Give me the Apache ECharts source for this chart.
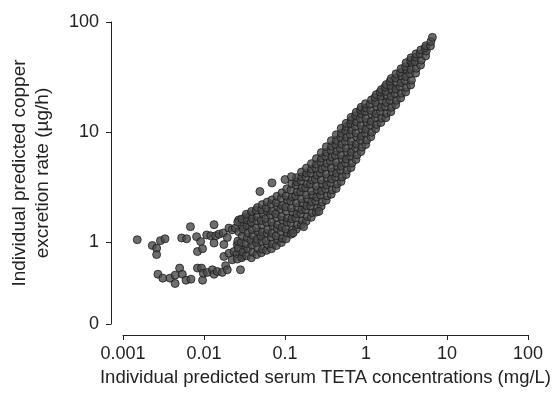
<!DOCTYPE html>
<html>
<head>
<meta charset="utf-8">
<script src="https://cdn.jsdelivr.net/npm/echarts@6/dist/echarts.min.js"></script>
<style>
  html, body { margin: 0; padding: 0; background: #fff; }
  #chart { width: 553px; height: 393px; }
</style>
</head>
<body>
<div id="chart"></div>
<script>
// [serum TETA (mg/L), copper excretion rate (ug/h)]
// sparse points at low concentrations
const lowTail = [
  [0.0015, 1.05], [0.0023, 0.93], [0.0026, 0.88], [0.0026, 0.77], [0.0029, 1.03], [0.0033, 1.07],
  [0.0053, 1.09], [0.0061, 1.07], [0.0068, 1.38], [0.0081, 1.12], [0.0091, 1.01], [0.0083, 0.82],
  [0.0096, 0.87], [0.0108, 1.16], [0.0121, 1.14], [0.0133, 1.44], [0.0139, 1.14], [0.0133, 0.98],
  [0.0153, 1.18], [0.0173, 1.21], [0.0194, 1.10], [0.0176, 0.95],
  [0.0027, 0.51], [0.0031, 0.47], [0.0038, 0.47], [0.0044, 0.50], [0.0044, 0.42], [0.0050, 0.58],
  [0.0054, 0.51], [0.0060, 0.45], [0.0069, 0.46], [0.0083, 0.58], [0.0093, 0.58], [0.0096, 0.45],
  [0.0098, 0.52], [0.0110, 0.53], [0.0127, 0.56], [0.0133, 0.51], [0.0146, 0.54], [0.0168, 0.53],
  [0.0185, 0.61], [0.0194, 0.56], [0.0176, 0.74], [0.0203, 0.79], [0.0223, 0.69], [0.0234, 0.82],
  [0.0257, 0.78], [0.0282, 0.56], [0.0257, 0.95], [0.0296, 0.74], [0.0310, 0.85],
  [0.0203, 1.34], [0.0223, 1.29], [0.0244, 1.34], [0.0269, 1.59], [0.0296, 1.38], [0.0325, 1.67],
  [0.0357, 1.44], [0.0374, 1.77]
];

// points sitting above or below the main band
const strays = [
  [0.049, 2.88], [0.069, 3.45], [0.100, 3.70], [0.120, 3.93],
  [0.126, 1.21], [0.170, 1.38], [0.262, 1.90]
];

// the dense band
const band = [
  [0.0258, 0.70], [0.0266, 0.88], [0.0262, 1.02], [0.0270, 1.24], [0.0261, 1.52],
  [0.0292, 0.72], [0.0301, 0.81], [0.0288, 0.99], [0.0297, 1.13], [0.0305, 1.31], [0.0293, 1.62],
  [0.0336, 0.75], [0.0347, 0.87], [0.0331, 0.97], [0.0342, 1.10], [0.0350, 1.21], [0.0338, 1.41], [0.0344, 1.58], [0.0333, 1.79],
  [0.0384, 0.72], [0.0399, 0.81], [0.0389, 0.94], [0.0379, 1.04], [0.0402, 1.15], [0.0391, 1.30], [0.0383, 1.51], [0.0396, 1.64], [0.0387, 1.90],
  [0.0448, 0.77], [0.0461, 0.88], [0.0440, 0.99], [0.0455, 1.06], [0.0465, 1.24], [0.0444, 1.35], [0.0452, 1.56], [0.0460, 1.70], [0.0442, 1.95], [0.0457, 2.06],
  [0.0511, 0.80], [0.0530, 0.86], [0.0518, 1.02], [0.0505, 1.13], [0.0527, 1.23], [0.0520, 1.44], [0.0508, 1.57], [0.0533, 1.81], [0.0514, 1.97], [0.0524, 2.19],
  [0.0590, 0.84], [0.0610, 0.95], [0.0583, 1.03], [0.0600, 1.20], [0.0614, 1.30], [0.0593, 1.51], [0.0579, 1.64], [0.0608, 1.89], [0.0588, 2.05], [0.0603, 2.31],
  [0.0680, 0.87], [0.0702, 0.96], [0.0671, 1.11], [0.0695, 1.20], [0.0708, 1.40], [0.0684, 1.52], [0.0668, 1.76], [0.0700, 1.91], [0.0677, 2.21], [0.0693, 2.42],
  [0.0783, 0.93], [0.0809, 1.05], [0.0775, 1.14], [0.0800, 1.33], [0.0813, 1.44], [0.0789, 1.67], [0.0770, 1.81], [0.0806, 2.10], [0.0780, 2.29], [0.0797, 2.61],
  [0.0902, 0.99], [0.0931, 1.08], [0.0892, 1.25], [0.0921, 1.36], [0.0936, 1.58], [0.0908, 1.71], [0.0888, 1.99], [0.0929, 2.15], [0.0899, 2.50], [0.0918, 2.80],
  [0.1035, 1.07], [0.107, 1.21], [0.1025, 1.31], [0.106, 1.52], [0.108, 1.65], [0.104, 1.91], [0.102, 2.08], [0.1075, 2.41], [0.103, 2.62], [0.1055, 3.05],
  [0.1195, 1.18], [0.1235, 1.29], [0.118, 1.50], [0.122, 1.63], [0.1245, 1.88], [0.120, 2.04], [0.117, 2.36], [0.123, 2.57], [0.1185, 2.98], [0.1215, 3.38],
  [0.138, 1.31], [0.1425, 1.44], [0.136, 1.66], [0.1405, 1.80], [0.1435, 2.08], [0.1385, 2.27], [0.135, 2.62], [0.142, 2.86], [0.137, 3.30], [0.1405, 3.52], [0.139, 3.85],
  [0.159, 1.43], [0.1645, 1.57], [0.157, 1.81], [0.162, 1.97], [0.1655, 2.27], [0.1595, 2.48], [0.156, 2.86], [0.1635, 3.11], [0.158, 3.60], [0.1615, 3.92], [0.160, 4.33],
  [0.183, 1.55], [0.1885, 1.71], [0.181, 1.97], [0.186, 2.14], [0.1895, 2.48], [0.1835, 2.69], [0.179, 3.11], [0.188, 3.38], [0.1815, 3.90], [0.1855, 4.24], [0.184, 4.70],
  [0.211, 1.68], [0.2175, 1.85], [0.208, 2.13], [0.2145, 2.32], [0.2185, 2.68], [0.2115, 2.92], [0.206, 3.37], [0.2165, 3.66], [0.209, 4.23], [0.2135, 4.60], [0.212, 5.16],
  [0.243, 1.87], [0.250, 2.04], [0.2395, 2.36], [0.2465, 2.56], [0.2505, 2.96], [0.2435, 3.22], [0.237, 3.73], [0.2485, 4.05], [0.2405, 4.68], [0.2455, 5.10], [0.2445, 5.74],
  [0.279, 2.12], [0.2875, 2.31], [0.2755, 2.68], [0.2835, 2.92], [0.289, 3.37], [0.2805, 3.66], [0.2725, 4.24], [0.286, 4.60], [0.2765, 5.32], [0.2825, 5.78], [0.281, 6.50],
  [0.322, 2.40], [0.3315, 2.63], [0.3175, 3.04], [0.3265, 3.30], [0.333, 3.82], [0.3225, 4.15], [0.3145, 4.80], [0.3295, 5.21], [0.319, 6.02], [0.3255, 6.54], [0.3235, 7.35],
  [0.372, 2.72], [0.3825, 2.98], [0.367, 3.45], [0.377, 3.75], [0.3845, 4.33], [0.3725, 4.71], [0.363, 5.45], [0.380, 5.92], [0.368, 6.85], [0.376, 7.44], [0.3735, 8.35],
  [0.428, 3.07], [0.4395, 3.37], [0.422, 3.90], [0.4335, 4.23], [0.442, 4.89], [0.4285, 5.32], [0.4175, 6.15], [0.437, 6.69], [0.4235, 7.73], [0.432, 8.40], [0.4295, 9.45],
  [0.4925, 3.55], [0.5065, 3.90], [0.486, 4.51], [0.499, 4.90], [0.509, 5.66], [0.4935, 6.16], [0.481, 7.12], [0.503, 7.74], [0.488, 8.95], [0.4975, 9.73], [0.4945, 10.8],
  [0.567, 4.11], [0.583, 4.51], [0.5605, 5.22], [0.574, 5.67], [0.5855, 6.56], [0.568, 7.13], [0.554, 8.24], [0.579, 8.96], [0.562, 10.3], [0.573, 11.2], [0.569, 12.0],
  [0.653, 4.76], [0.671, 5.22], [0.645, 6.04], [0.661, 6.56], [0.674, 7.58], [0.654, 8.25], [0.638, 9.54], [0.667, 10.4], [0.647, 11.9], [0.660, 12.8], [0.656, 13.6],
  [0.752, 5.63], [0.773, 6.19], [0.744, 7.14], [0.762, 7.77], [0.777, 8.98], [0.753, 9.78], [0.735, 11.3], [0.768, 12.3], [0.746, 14.1], [0.757, 15.1],
  [0.866, 6.64], [0.890, 7.29], [0.857, 8.42], [0.877, 9.16], [0.895, 10.6], [0.867, 11.5], [0.847, 13.3], [0.884, 14.5], [0.859, 15.9], [0.872, 16.8],
  [0.992, 7.70], [1.020, 8.45], [0.981, 9.76], [1.004, 10.6], [1.025, 12.3], [0.993, 13.3], [0.970, 15.4], [1.012, 16.5], [0.985, 18.1],
  [1.145, 9.05], [1.178, 9.95], [1.133, 11.5], [1.162, 12.5], [1.185, 14.4], [1.148, 15.7], [1.124, 17.9], [1.170, 19.6],
  [1.315, 10.7], [1.352, 11.7], [1.302, 13.5], [1.334, 14.7], [1.362, 17.0], [1.318, 18.5], [1.293, 20.6], [1.340, 21.9],
  [1.525, 12.2], [1.567, 13.4], [1.505, 15.4], [1.545, 16.8], [1.578, 19.4], [1.528, 21.2], [1.495, 23.1], [1.552, 24.3],
  [1.755, 13.5], [1.800, 14.8], [1.735, 17.1], [1.778, 18.6], [1.812, 21.5], [1.758, 23.4], [1.723, 25.7], [1.782, 27.0],
  [2.025, 15.3], [2.070, 16.8], [1.995, 19.4], [2.045, 21.1], [2.090, 24.4], [2.020, 26.5], [1.985, 28.9], [2.050, 30.6],
  [2.325, 17.7], [2.380, 19.4], [2.295, 22.4], [2.345, 24.5], [2.395, 28.2], [2.318, 31.0], [2.350, 33.8],
  [2.675, 20.4], [2.740, 22.5], [2.640, 25.9], [2.705, 28.2], [2.760, 32.5], [2.668, 34.8], [2.715, 37.6],
  [3.085, 23.1], [3.155, 25.5], [3.040, 29.3], [3.115, 32.0], [3.180, 36.8], [3.075, 39.3], [3.125, 42.6],
  [3.555, 26.8], [3.635, 29.6], [3.500, 33.9], [3.585, 37.1], [3.660, 42.7], [3.545, 44.8], [3.595, 47.3],
  [4.095, 34.3], [4.180, 38.0], [4.030, 43.5], [4.125, 47.8], [4.150, 51.4],
  [4.715, 40.6], [4.810, 45.0], [4.650, 51.4], [4.765, 55.8],
  [5.435, 49.1], [5.540, 54.4], [5.395, 58.3], [5.485, 60.9],
  [6.245, 60.6], [6.335, 66.6],
  [6.60, 72.5]
];

const xTicks = [0.001, 0.01, 0.1, 1, 10, 100];
const yMin = 0.18; // bottom of the axis, labelled "0"

const chart = echarts.init(document.getElementById('chart'));

const font = "'Liberation Sans', Arial, Helvetica, sans-serif";
const ink = '#222';

const axisCommon = {
  type: 'log',
  logBase: 10,
  axisLine: { show: true, lineStyle: { color: ink, width: 1 } },
  axisTick: { show: true, length: 5, lineStyle: { color: ink, width: 1 } },
  minorTick: { show: false },
  splitLine: { show: false },
  axisLabel: { color: ink, fontSize: 18, fontFamily: font }
};

const dotStyle = { color: '#4a4a4a', borderColor: '#1c1c1c', borderWidth: 1 };

chart.setOption({
  animation: false,
  backgroundColor: '#fff',
  grid: { left: 120, right: 25, top: 22, bottom: 69 },
  xAxis: {
    ...axisCommon,
    min: xTicks[0],
    max: xTicks[xTicks.length - 1],
    offset: 11,
    name: 'Individual predicted serum TETA concentrations (mg/L)',
    nameLocation: 'middle',
    nameGap: 33,
    nameTextStyle: { color: ink, fontSize: 18.5, fontFamily: font },
    axisLabel: {
      ...axisCommon.axisLabel,
      margin: 10,
      formatter: v => String(Number(v.toPrecision(1)))
    }
  },
  yAxis: {
    ...axisCommon,
    min: yMin,
    max: 100,
    offset: 12,
    name: 'Individual predicted copper\nexcretion rate (µg/h)',
    nameLocation: 'middle',
    nameRotate: 90,
    nameGap: 57,
    nameTextStyle: { color: ink, fontSize: 19, fontFamily: font, lineHeight: 23 },
    axisLabel: {
      ...axisCommon.axisLabel,
      margin: 12,
      formatter: v => (v < 0.5 ? '0' : String(Math.round(v)))
    }
  },
  series: [
    { type: 'scatter', data: lowTail, symbolSize: 8, itemStyle: dotStyle },
    { type: 'scatter', data: band, symbolSize: 8, itemStyle: dotStyle },
    { type: 'scatter', data: strays, symbolSize: 8, itemStyle: dotStyle }
  ]
});
</script>
</body>
</html>
